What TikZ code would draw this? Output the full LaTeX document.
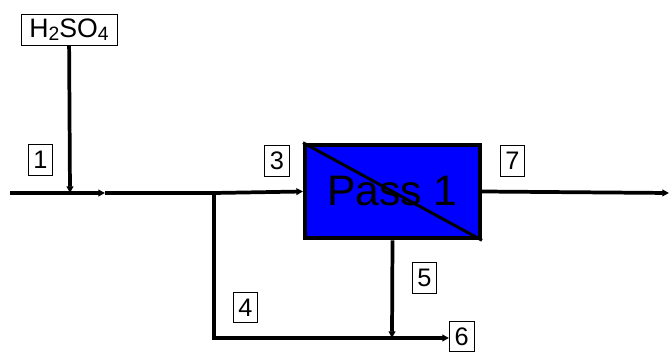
\documentclass[tikz,border=0pt]{standalone}
\usepackage{fontspec}
\setmainfont{Liberation Sans}
\usetikzlibrary{arrows.meta}
\definecolor{passblue}{HTML}{0000FF}
\newcommand{\lowsub}[1]{\raisebox{-2.5pt}{\fontsize{14.5}{14.5}\selectfont #1}}

\begin{document}
\begin{tikzpicture}[x=0.75pt, y=-0.75pt,
    stream/.style={line width=2.8pt, black},
    flow/.style={stream, -{Triangle[length=5pt, width=5pt]}},
    tag/.style={draw, line width=0.6pt, fill=white, inner sep=0pt, minimum width=18.5pt, minimum height=23pt, font=\fontsize{19}{19}\selectfont},
    unit/.style={draw, line width=3.2pt, fill=passblue, minimum width=131pt, minimum height=70pt, inner sep=0pt, font=\fontsize{32}{32}\selectfont}]
    \useasboundingbox (0,0) rectangle (669,352);

    \node[draw, line width=0.6pt, fill=white, minimum width=72pt, minimum height=23pt, inner sep=0pt, font=\fontsize{20}{20}\selectfont] (acid) at (69,30) {H\lowsub{2}SO\lowsub{4}};
    \node[unit] (pass) at (392.5,191.5) {Pass 1};
    \draw[line width=2.2pt] (pass.north west) -- (pass.south east);

    \coordinate (feed) at (10,193);
    \coordinate (mix) at (70,193);
    \coordinate (mixed) at (105,193);
    \coordinate (split) at (214,193);
    \coordinate (corner) at (214,338);
    \coordinate (join) at (392,338);
    \coordinate (out) at (669,193);

    \node[tag] at (40.5,160) {1};
    \node[tag] at (277,161) {3};
    \node[tag] at (245.5,307.5) {4};
    \node[tag] at (424.5,278) {5};
    \node[tag, anchor=west] (waste) at (449,336.5) {6};
    \node[tag] at (512.5,161) {7};

    \draw[stream] (feed) -- (mix);
    \draw[flow] (acid) -- (mix);
    \draw[flow] (mix) -- (mixed);
    \draw[stream] (mixed) -- (split);
    \draw[flow] (split) -- (pass.west);
    \draw[stream] (split) -- (corner) -- (join);
    \draw[flow] (pass.south) -- (join);
    \draw[flow] (join) -- (join -| waste.west);
    \draw[flow] (pass.east) -- (out);
  \end{tikzpicture}
\end{document}
